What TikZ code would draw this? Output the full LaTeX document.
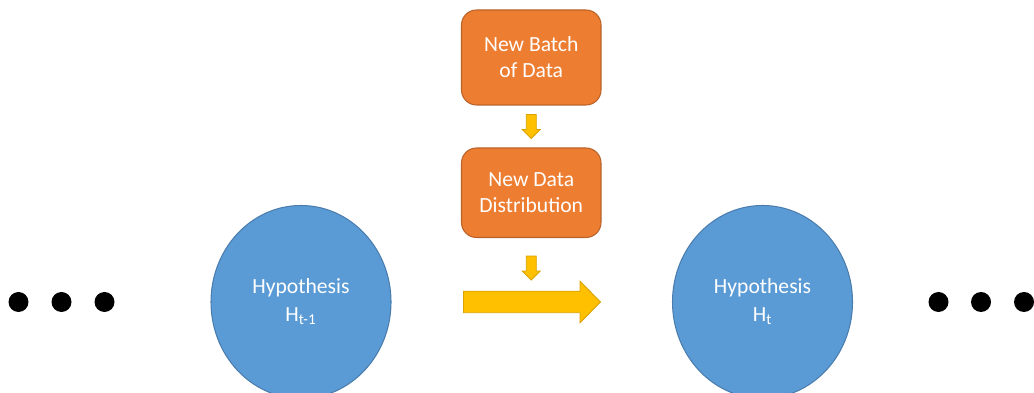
\documentclass[tikz,border=0pt]{standalone}
\usepackage{fontspec}
\setmainfont{Carlito}
\usetikzlibrary{shapes.geometric,calc}

\definecolor{boxfill}{HTML}{ED7D31}
\definecolor{boxedge}{HTML}{B9622A}
\definecolor{hypfill}{HTML}{5B9BD5}
\definecolor{hypedge}{HTML}{4A7DAE}
\definecolor{arrfill}{HTML}{FFC000}
\definecolor{arredge}{HTML}{D9A300}

\tikzset{
  databox/.style={draw=boxedge, fill=boxfill, line width=0.6pt, rounded corners=0.3cm,
    minimum width=2.79cm, text=white, align=center, font=\fontsize{12.3}{14.8}\selectfont},
  hyp/.style={ellipse, draw=hypedge, fill=hypfill, line width=0.6pt, inner sep=0pt,
    minimum width=3.6cm, minimum height=3.86cm, text=white, align=center,
    font=\fontsize{12.3}{14.8}\selectfont},
  yarrow/.style={draw=arredge, fill=arrfill, line width=0.5pt, line join=miter}
}

\begin{document}
\begin{tikzpicture}[scale=1]
\useasboundingbox (0,0) rectangle (20.68,7.86);

% the two boxes on top
\node[databox, minimum height=1.9cm] (batch) at (10.625,6.71) {New Batch\\of Data};
\node[databox, minimum height=1.79cm] (dist) at (10.625,4.005) {New Data\\Distribution};

% the two hypotheses
\node[hyp] (hprev) at (6.02,1.82) {Hypothesis\\[1pt]H\textsubscript{t-1}};
\node[hyp] (hnext) at (15.25,1.82) {Hypothesis\\[1pt]H\textsubscript{t}};

% small arrows down
\coordinate (m1) at ($(batch.south)!0.5!(dist.north)$);
\coordinate (m2) at ($(dist.south)+(0,-0.6)$);
\draw[yarrow] (m1) ++(-0.1,0.24) -- ++(0.2,0) -- ++(0,-0.3) -- ++(0.08,0)
  -- ++(-0.18,-0.18) -- ++(-0.18,0.18) -- ++(0.08,0) -- cycle;
\draw[yarrow] (m2) ++(-0.1,0.24) -- ++(0.2,0) -- ++(0,-0.3) -- ++(0.08,0)
  -- ++(-0.18,-0.18) -- ++(-0.18,0.18) -- ++(0.08,0) -- cycle;

% big arrow from H_{t-1} side to H_t side
\coordinate (feed) at (9.27,1.82);
\draw[yarrow] (feed) ++(0,0.215) -- ++(2.33,0) -- ++(0,0.2) -- ++(0.41,-0.415)
  -- ++(-0.41,-0.415) -- ++(0,0.2) -- ++(-2.33,0) -- cycle;

% dots on both sides
\foreach \x in {0.37,1.23,2.09,18.77,19.62,20.48}
  \fill (\x,1.82) circle (0.2);
\end{tikzpicture}
\end{document}
